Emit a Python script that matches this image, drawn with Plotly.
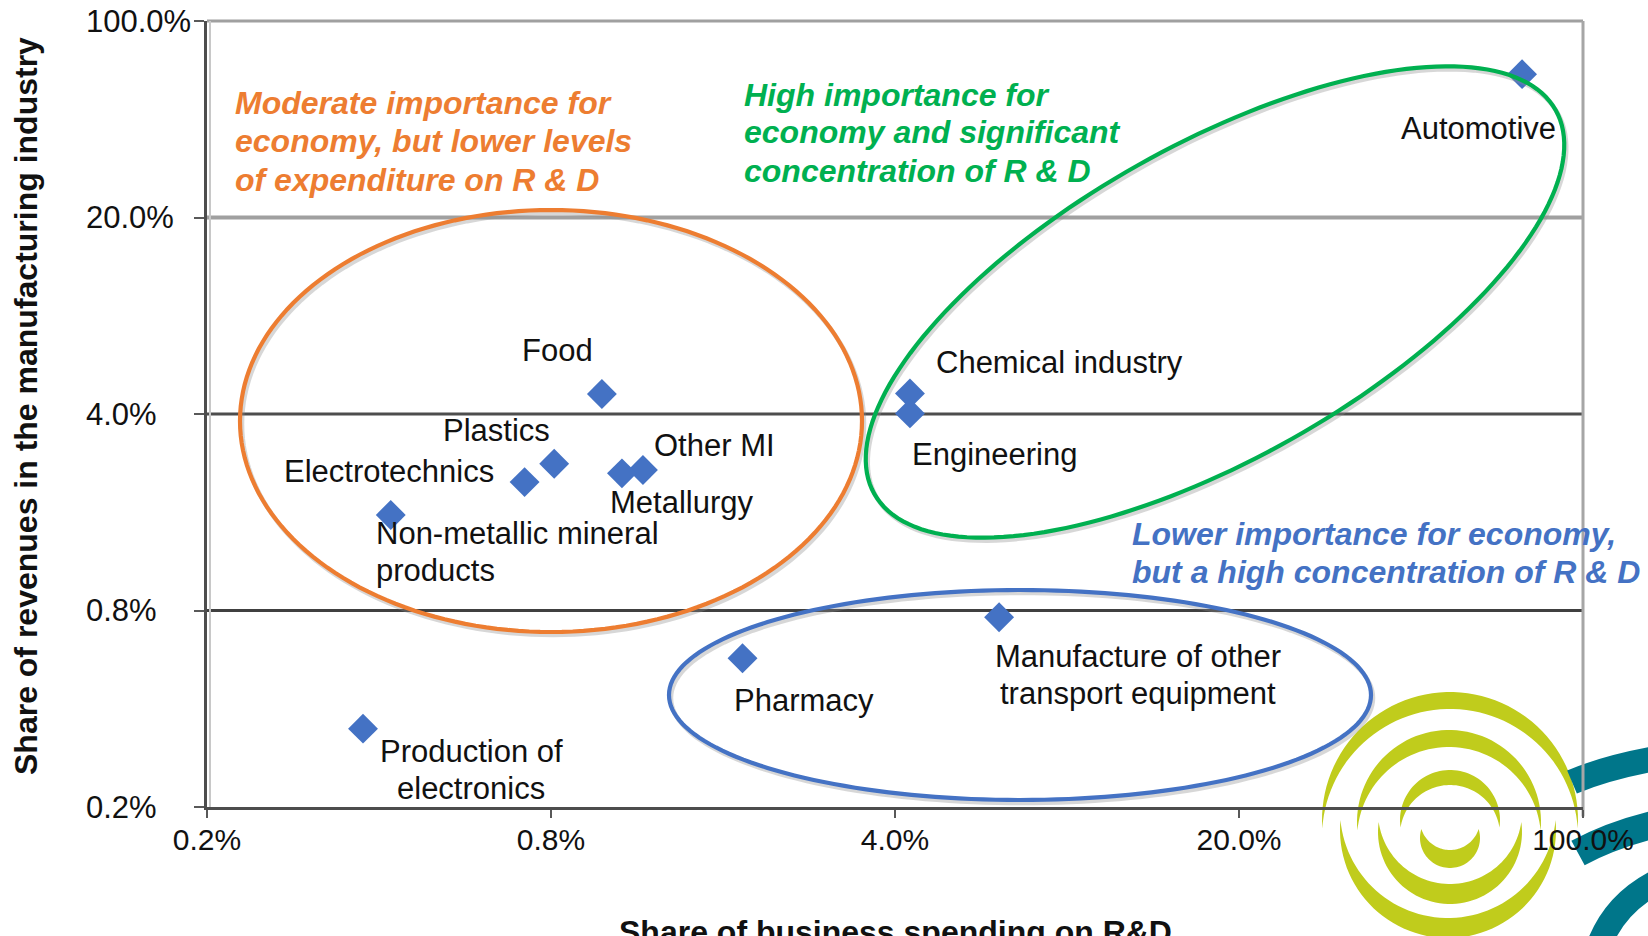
import numpy as np
import plotly.graph_objects as go

# ---------------- data ----------------
sectors = ["Automotive", "Chemical industry", "Engineering", "Food", "Plastics",
           "Electrotechnics", "Other MI", "Metallurgy",
           "Non-metallic mineral<br>products", "Pharmacy",
           "Manufacture of other<br>transport equipment", "Production of<br>electronics"]
rd_spending_share = [75.2, 4.29, 4.29, 1.015, 0.812, 0.707, 1.23, 1.115, 0.378, 1.96, 6.51, 0.332]
revenue_share = [64.7, 4.73, 4.02, 4.71, 2.66, 2.29, 2.53, 2.46, 1.75, 0.541, 0.757, 0.304]
tick_vals = [0.16, 0.8, 4, 20, 100]
tick_text = ["0.2%", "0.8%", "4.0%", "20.0%", "100.0%"]

# label placement (xanchor, xshift px, yshift px of block centre, align)
label_pos = {
    "Automotive": ("right", 36, -54, "left"),
    "Chemical industry": ("left", 24, 31, "left"),
    "Engineering": ("left", 0, -41, "left"),
    "Food": ("center", -44, 44, "center"),
    "Plastics": ("center", -58, 33, "center"),
    "Electrotechnics": ("right", -29, 11, "left"),
    "Other MI": ("left", 9, 24, "left"),
    "Metallurgy": ("left", -14, -29, "left"),
    "Non-metallic mineral<br>products": ("left", -17, -37, "left"),
    "Pharmacy": ("left", -11, -42, "left"),
    "Manufacture of other<br>transport equipment": ("center", 139, -58, "center"),
    "Production of<br>electronics": ("center", 108, -41, "center"),
}

W, H = 1648, 936
L, R, T, B = 207, 65, 21, 129
PW, PH = W - L - R, H - T - B
FONT = "Liberation Sans, Arial, Helvetica, sans-serif"
LINE = 37


def pp(px, py):
    return (px - L) / PW, (H - B - py) / PH


def path_from(xs, ys, close=True):
    pts = [pp(x, y) for x, y in zip(xs, ys)]
    s = "M " + " L ".join(f"{a:.5f},{b:.5f}" for a, b in pts)
    return s + (" Z" if close else "")


def ellipse(cx, cy, a, b, ang):
    t = np.linspace(0, 2 * np.pi, 181)
    th = np.radians(ang)
    xs = cx + a * np.cos(t) * np.cos(th) - b * np.sin(t) * np.sin(th)
    ys = cy - (a * np.cos(t) * np.sin(th) + b * np.sin(t) * np.cos(th))
    return xs, ys


def crescent(cx, cy, r, d, up=True):
    a0 = np.arcsin((d / 2) / r)
    phi = np.linspace(np.pi + a0, -a0, 60)
    psi = np.linspace(a0, np.pi - a0, 60)
    xs = np.concatenate([cx + r * np.cos(phi), cx + r * np.cos(psi)])
    dy = np.concatenate([-r * np.sin(phi), d - r * np.sin(psi)])
    ys = cy + (dy if up else -dy)
    return xs, ys


fig = go.Figure()
fig.add_trace(go.Scatter(
    x=rd_spending_share, y=revenue_share, mode="markers",
    marker=dict(symbol="diamond", size=23, color="#4472C4"),
    hoverinfo="text", text=sectors))

shapes = []
# logo (decoration, bottom right)
lime = "#C0CC1C"
for cx, cy, r, d in [(1450, 820, 128, 17), (1449, 822, 92, 17), (1450, 820, 50, 15)]:
    xs, ys = crescent(cx, cy, r, d, up=True)
    shapes.append(dict(type="path", xref="paper", yref="paper", path=path_from(xs, ys),
                       fillcolor=lime, line=dict(width=0), layer="below"))
for cx, cy, r, d in [(1448, 830, 108, 20), (1450, 832, 72, 20), (1450, 838, 30, 18)]:
    xs, ys = crescent(cx, cy, r, d, up=False)
    shapes.append(dict(type="path", xref="paper", yref="paper", path=path_from(xs, ys),
                       fillcolor=lime, line=dict(width=0), layer="below"))
teal = "#00768A"
for (x0, y0), (xc, yc), (x1, y1), w in [((1572, 782), (1610, 766), (1665, 757), 25),
                                          ((1578, 853), (1615, 833), (1665, 822), 28),
                                          ((1598, 948), (1615, 900), (1665, 878), 25)]:
    a, b = pp(x0, y0); c, d_ = pp(xc, yc); e, f = pp(x1, y1)
    shapes.append(dict(type="path", xref="paper", yref="paper",
                       path=f"M {a:.5f},{b:.5f} Q {c:.5f},{d_:.5f} {e:.5f},{f:.5f}",
                       line=dict(color=teal, width=w), layer="below"))

# horizontal grid lines
for yv, col, wd in [(20, "#A0A0A0", 4), (4, "#4D4D4D", 3), (0.8, "#404040", 3)]:
    shapes.append(dict(type="line", xref="paper", yref="y", x0=0, x1=1,
                       ysizemode="pixel", yanchor=yv, y0=-3, y1=-3,
                       line=dict(color="#DADADA", width=2), layer="below"))
    shapes.append(dict(type="line", xref="paper", yref="y", x0=0, x1=1, y0=yv, y1=yv,
                       line=dict(color=col, width=wd), layer="below"))
# top and right border
shapes.append(dict(type="line", xref="paper", yref="paper", x0=0, x1=1, y0=1, y1=1,
                   line=dict(color="#A0A0A0", width=3), layer="below"))
shapes.append(dict(type="line", xref="paper", yref="paper", x0=1, x1=1, y0=-0.012, y1=1,
                   line=dict(color="#A6A6A6", width=3), layer="below"))
shapes.append(dict(type="line", xref="paper", yref="paper", x0=3 / PW, x1=3 / PW, y0=0, y1=1,
                   line=dict(color="#C8C8C8", width=2), layer="below"))

# ellipses
for (cx, cy, a, b, ang), col in [((551, 421, 311, 211, 0), "#ED7D31"),
                                 ((1215, 302, 391, 157, 29.4), "#00B050"),
                                 ((1020, 695, 351, 105, 0), "#4472C4")]:
    xs, ys = ellipse(cx, cy, a, b, ang)
    shapes.append(dict(type="path", xref="paper", yref="paper", path=path_from(xs + 2, ys + 3),
                       line=dict(color="rgba(140,140,140,0.35)", width=4.5), layer="above"))
    shapes.append(dict(type="path", xref="paper", yref="paper", path=path_from(xs, ys),
                       line=dict(color=col, width=4.2), layer="above"))

annotations = []
for name, xv, yv in zip(sectors, rd_spending_share, revenue_share):
    xa, xs_, ys_, al = label_pos[name]
    lines = name.split("<br>")
    n = len(lines)
    for i, ln in enumerate(lines):
        off = ys_ + ((n - 1) / 2 - i) * LINE
        annotations.append(dict(x=np.log10(xv), y=np.log10(yv), xref="x", yref="y", text=ln,
                                showarrow=False, xanchor=xa, yanchor="middle",
                                xshift=xs_, yshift=off, align=al,
                                font=dict(family=FONT, size=31, color="#111111")))

for txt, col, lx, ys in [
        ("Moderate importance for<br>economy, but lower levels<br>of expenditure on R & D", "#ED7D31", 233, [103, 141, 180]),
        ("High importance for<br>economy and significant<br>concentration of R & D", "#00B050", 742, [95, 132.5, 171]),
        ("Lower importance for economy,<br>but a high concentration of R & D", "#4472C4", 1130, [534, 572])]:
    for ln, yy in zip(txt.split("<br>"), ys):
        x, y = pp(lx, yy)
        annotations.append(dict(x=x, y=y, xref="paper", yref="paper", text=f"<b><i>{ln}</i></b>",
                                showarrow=False, xanchor="left", yanchor="middle", align="left",
                                font=dict(family=FONT, size=32, color=col)))

# y tick labels (left-aligned as in the original)
for v, t in zip(tick_vals, tick_text):
    annotations.append(dict(x=(84 - L) / PW, y=np.log10(v), xref="paper", yref="y", text=t,
                            showarrow=False, xanchor="left", yanchor="middle",
                            font=dict(family=FONT, size=31, color="#111111")))

x, y = pp(26, 406)
annotations.append(dict(x=x, y=y, xref="paper", yref="paper",
                        text="<b>Share of revenues in the manufacturing industry</b>",
                        textangle=-90, showarrow=False, xanchor="center", yanchor="middle",
                        font=dict(family=FONT, size=32, color="#111111")))
x, y = pp(895, 912)
annotations.append(dict(x=x, y=y, xref="paper", yref="paper",
                        text="<b>Share of business spending on R&D</b>",
                        showarrow=False, xanchor="center", yanchor="top",
                        font=dict(family=FONT, size=32, color="#111111")))

fig.update_layout(
    width=W, height=H, margin=dict(l=L, r=R, t=T, b=B, pad=0, autoexpand=False),
    paper_bgcolor="white", plot_bgcolor="white", showlegend=False,
    font=dict(family=FONT, size=30, color="#111111"),
    shapes=shapes, annotations=annotations)
fig.update_xaxes(type="log", range=[np.log10(0.16), np.log10(100)], tickvals=tick_vals,
                 ticktext=tick_text, showgrid=False, zeroline=False, showline=True,
                 linecolor="#4D4D4D", linewidth=3, ticks="outside", ticklen=8, tickwidth=2,
                 tickcolor="#595959", ticklabelstandoff=-4, automargin=False,
                 tickfont=dict(size=30, family=FONT, color="#111111"))
fig.update_yaxes(type="log", range=[np.log10(0.16), np.log10(100)], tickvals=tick_vals,
                 showticklabels=False, showgrid=False, zeroline=False, showline=True,
                 linecolor="#4D4D4D", linewidth=3, ticks="outside", ticklen=10, tickwidth=2,
                 tickcolor="#595959", automargin=False)

fig.write_html("out.html", config={"displayModeBar": False},
               post_script="document.body.style.margin='0';document.body.style.overflow='hidden';")
